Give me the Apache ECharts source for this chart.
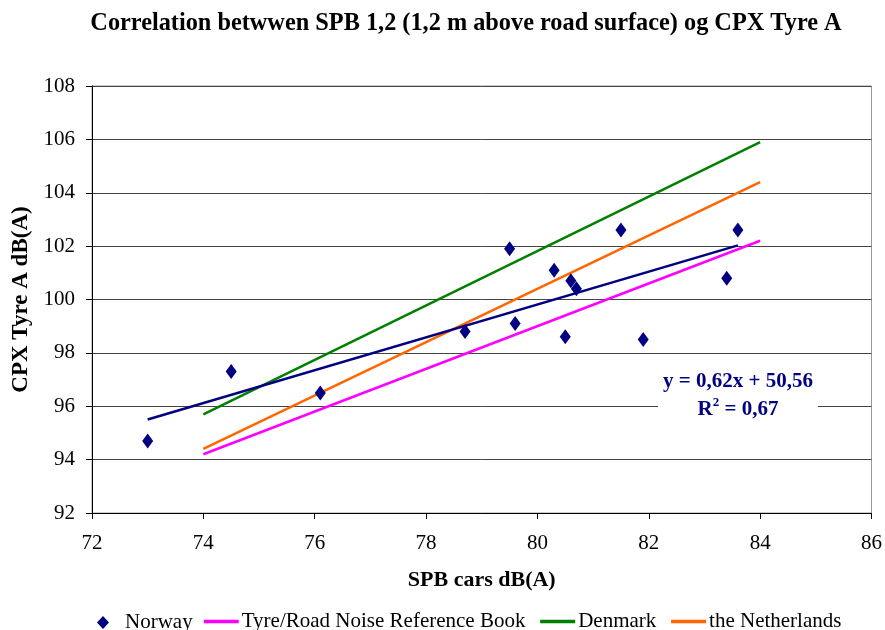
<!DOCTYPE html>
<html><head><meta charset="utf-8">
<script src="https://cdn.jsdelivr.net/npm/echarts@6/dist/echarts.min.js"></script>
<style>html,body{margin:0;padding:0;background:#fff}#c{width:885px;height:630px}</style>
</head><body><div id="c"></div>
<script>
const norwayX = [73.0, 74.5, 76.1, 78.7, 79.5, 79.6, 80.3, 80.5, 80.6, 80.7, 81.5, 81.9, 83.4, 83.6];
const norwayY = [94.7, 97.3, 96.5, 98.8, 101.9, 99.1, 101.1, 98.6, 100.7, 100.4, 102.6, 98.5, 100.8, 102.6];
const lineX = [74, 84];
const refBookY = [94.2, 102.2];
const denmarkY = [95.7, 105.9];
const netherlandsY = [94.4, 104.4];
const seriesNames = ['Norway', 'Tyre/Road Noise Reference Book', 'Denmark', 'the Netherlands'];
const equationText = ['y = 0,62x + 50,56', 'R{sup|2} = 0,67'];

// least-squares trendline from Norway data
const n = norwayX.length;
const mx = norwayX.reduce((a, b) => a + b, 0) / n;
const my = norwayY.reduce((a, b) => a + b, 0) / n;
let sxy = 0, sxx = 0;
for (let i = 0; i < n; i++) { sxy += (norwayX[i] - mx) * (norwayY[i] - my); sxx += (norwayX[i] - mx) ** 2; }
const slope = sxy / sxx, icpt = my - slope * mx;
const xmin = Math.min(...norwayX), xmax = Math.max(...norwayX);
const trend = [[xmin, slope * xmin + icpt], [xmax, slope * xmax + icpt]];

const font = "'Liberation Serif', 'Times New Roman', serif";
const chart = echarts.init(document.getElementById('c'), null, {renderer: 'canvas'});
const pair = (xs, ys) => xs.map((x, i) => [x, ys[i]]);
const legendText = {fontFamily: font, fontSize: 21, color: '#000'};
chart.setOption({
  animation: false,
  textStyle: {fontFamily: font},
  title: {
    text: 'Correlation betwwen SPB 1,2 (1,2 m above road surface) og CPX Tyre A',
    left: 461, textAlign: 'center', top: 7,
    textStyle: {fontFamily: font, fontWeight: 'bold', fontSize: 24.3, color: '#000'}
  },
  grid: {left: 92, right: 12, top: 86, bottom: 117, show: true, borderColor: '#999', borderWidth: 1},
  xAxis: {
    type: 'value', min: 72, max: 86, interval: 2,
    name: 'SPB cars dB(A)', nameLocation: 'middle', nameGap: 56,
    nameTextStyle: {fontFamily: font, fontWeight: 'bold', fontSize: 22, color: '#000'},
    axisLine: {show: true, lineStyle: {color: '#000', width: 1}},
    axisTick: {show: true, inside: false, length: 6, lineStyle: {color: '#000'}},
    axisLabel: {fontFamily: font, fontSize: 21, color: '#000', margin: 20},
    splitLine: {show: false}
  },
  yAxis: {
    type: 'value', min: 92, max: 108, interval: 2,
    name: 'CPX Tyre A dB(A)', nameLocation: 'middle', nameGap: 54, nameRotate: 90,
    nameTextStyle: {fontFamily: font, fontWeight: 'bold', fontSize: 23, color: '#000'},
    axisLine: {show: true, lineStyle: {color: '#000', width: 1}},
    axisTick: {show: true, inside: false, length: 6, lineStyle: {color: '#000'}},
    axisLabel: {fontFamily: font, fontSize: 21, color: '#000', margin: 17},
    splitLine: {show: true, lineStyle: {color: '#444', width: 1}}
  },
  legend: [{
    top: 612, left: 97, padding: 0, itemWidth: 12, itemHeight: 13, itemGap: 8,
    textStyle: Object.assign({padding: [0, 0, 0, 11]}, legendText),
    data: [{name: seriesNames[0], icon: 'diamond'}]
  }, {
    top: 611, left: 202, padding: 0, itemWidth: 35, itemHeight: 14, itemGap: 13,
    itemStyle: {opacity: 0}, lineStyle: {width: 3.5},
    textStyle: Object.assign({padding: [0, 0, 0, -2]}, legendText),
    data: [{name: seriesNames[1]}, {name: seriesNames[2]}, {name: seriesNames[3]}]
  }],
  series: [
    {name: seriesNames[0], type: 'scatter', symbol: 'diamond', symbolSize: [11, 15],
     itemStyle: {color: '#000080', opacity: 1}, data: pair(norwayX, norwayY), z: 5},
    {name: seriesNames[1], type: 'line', symbol: 'none', lineStyle: {color: '#FF00FF', width: 2.5},
     itemStyle: {color: '#FF00FF'}, data: pair(lineX, refBookY)},
    {name: seriesNames[2], type: 'line', symbol: 'none', lineStyle: {color: '#008000', width: 2.5},
     itemStyle: {color: '#008000'}, data: pair(lineX, denmarkY)},
    {name: seriesNames[3], type: 'line', symbol: 'none', lineStyle: {color: '#FF6600', width: 2.5},
     itemStyle: {color: '#FF6600'}, data: pair(lineX, netherlandsY)},
    {name: 'trend', type: 'line', symbol: 'none', lineStyle: {color: '#000080', width: 2.5},
     data: trend, z: 4, legendHoverLink: false}
  ],
  graphic: [{
    type: 'rect', z: 9, silent: true,
    shape: {x: 658, y: 366, width: 160, height: 60},
    style: {fill: '#fff'}
  }, {
    type: 'text', x: 738, y: 368, z: 10, silent: true,
    style: {
      text: equationText[0] + '\n' + equationText[1],
      fontFamily: font, fontWeight: 'bold', fontSize: 21, fill: '#000080',
      align: 'center', verticalAlign: 'top', lineHeight: 28,
      rich: {sup: {fontSize: 13, fontWeight: 'bold', fill: '#000080', verticalAlign: 'top', lineHeight: 14, fontFamily: font}}
    }
  }]
});
</script></body></html>
